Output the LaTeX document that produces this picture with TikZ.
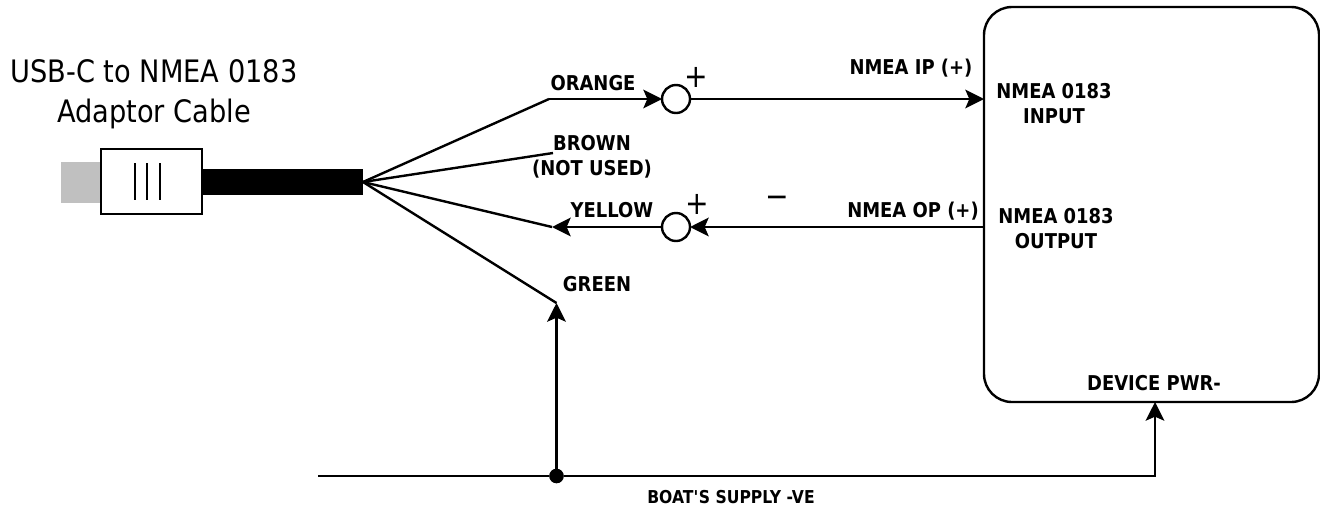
\documentclass[tikz,border=0pt]{standalone}
\usepackage{fontspec}
\setmainfont[FakeStretch=0.88]{DejaVu Sans}
\usetikzlibrary{arrows.meta}
\tikzset{
  wire/.style={line width=1.8pt},
  wirearrow/.style={wire,-{Stealth[length=14pt,width=14pt,inset=3pt]}},
  wirelabel/.style={font=\bfseries\fontsize{15.3}{18.75}\selectfont,align=center,inner sep=0pt},
  smalllabel/.style={font=\bfseries\fontsize{13.3}{18.75}\selectfont,inner sep=0pt},
  titlelabel/.style={font=\fontsize{23.2}{30}\selectfont,align=center,inner sep=0pt},
  signlabel/.style={font=\fontsize{24}{24}\selectfont,inner sep=0pt},
  joint/.style={circle,draw,line width=1.8pt,fill=white,minimum size=21pt,inner sep=0pt,outer sep=0pt},
  cablepart/.style={rectangle,inner sep=0pt,outer sep=0pt},
}
\begin{document}
\begin{tikzpicture}[x=0.75pt,y=0.75pt,yscale=-1,xscale=1]
\useasboundingbox (0,0) rectangle (1320,508);

% Cable
\node [cablepart,fill={rgb,255:red,192;green,192;blue,192},minimum width=30pt,minimum height=30.75pt] (plug) at (81,182.5) {};
\node [cablepart,draw,line width=1.8pt,fill=white,minimum width=75.75pt,minimum height=48.75pt] (shell) at (151.5,181.5) {};
\node [cablepart,fill=black,minimum width=120.75pt,minimum height=19.5pt] (bar) at (282.5,182) {};
\draw [line width=1.5pt] (135,163) -- (135,200) (146.5,163) -- (146.5,200) (159.5,163) -- (159.5,200);

% Device
\node [cablepart,draw,line width=1.8pt,rounded corners=21pt,minimum width=251.25pt,minimum height=296.25pt] (device) at (1151.5,204.5) {};

% Joints
\node [joint] (jointa) at (676,99) {};
\node [joint] (jointb) at (676,227) {};
\node [circle,fill=black,minimum size=11pt,inner sep=0pt,outer sep=0pt] (tee) at (556.5,476) {};

% Free ends
\coordinate (orange) at (549,99);
\coordinate (brown) at (553,153);
\coordinate (yellow) at (552,227);
\coordinate (green) at (556.5,303);
\coordinate (supply) at (318,476);
\coordinate (inport) at (984,99);
\coordinate (outport) at (984,227);
\coordinate (pwrport) at (1155,402);

% Wires
\draw [wire] (bar.east) -- (orange);
\draw [wire] (bar.east) -- (brown);
\draw [wire] (bar.east) -- (yellow);
\draw [wire] (bar.east) -- (green);
\draw [wirearrow] (orange) -- (jointa);
\draw [wirearrow] (jointa) -- (inport);
\draw [wirearrow] (outport) -- (jointb);
\draw [wirearrow] (jointb) -- (yellow);
\draw [wirearrow] (tee) -- (green);
\draw [wire] (supply) -- (tee);
\draw [wirearrow] (tee) -| (pwrport);

% Text Node
\node [titlelabel] (title) at (154,94) {USB-C to NMEA 0183\\Adaptor Cable};
\node [wirelabel] (orangetext) at (593,83) {ORANGE};
\node [wirelabel] (browntext) at (592,157) {BROWN\\(NOT USED)};
\node [wirelabel] (yellowtext) at (612,210) {YELLOW};
\node [wirelabel] (greentext) at (597,284) {GREEN};
\node [wirelabel] (iptext) at (911,68) {NMEA IP (+)};
\node [wirelabel] (optext) at (913,211) {NMEA OP (+)};
\node [wirelabel] (intext) at (1054,104) {NMEA 0183\\INPUT};
\node [wirelabel] (outtext) at (1056,229) {NMEA 0183\\OUTPUT};
\node [wirelabel] (pwrtext) at (1154,383) {DEVICE PWR-};
\node [smalllabel] (supplytext) at (731,497) {BOAT\textquotesingle S SUPPLY -VE};
\node [signlabel] (plusa) at (696,77) {+};
\node [signlabel] (plusb) at (697,204) {+};
\node [signlabel] (minus) at (777,202) {\textminus};

\end{tikzpicture}
\end{document}
